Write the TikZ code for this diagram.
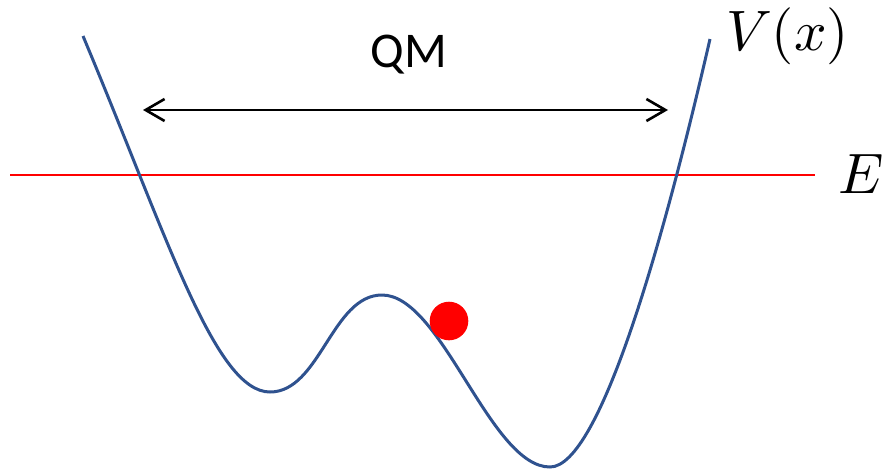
\documentclass[tikz,border=0pt]{standalone}
\usepackage{fontspec}
\newfontfamily\qmfont{Carlito}
\usetikzlibrary{arrows.meta}
\definecolor{curveblue}{RGB}{47,82,143}
\tikzset{
  potential/.style={draw=curveblue, line width=3pt},
  energy/.style={draw=red, line width=2.6pt},
  qmspan/.style={draw=black, line width=2.6pt, {Straight Barb[length=19pt,width=22pt,line width=2.6pt]}-{Straight Barb[length=19pt,width=22pt,line width=2.6pt]}},
  lbl/.style={inner sep=0pt, outer sep=0pt},
}
\begin{document}
\begin{tikzpicture}[x=1pt,y=-1pt]
\useasboundingbox (0,0) rectangle (885,472);
% energy line
\coordinate (e1) at (10,175);
\coordinate (e2) at (815,175);
\draw[energy] (e1) -- (e2);
% potential curve
\coordinate (p0) at (83,36);
\coordinate (m1) at (270,392);
\coordinate (mx) at (382,295);
\coordinate (m2) at (550,467);
\coordinate (p1) at (710,39);
\draw[potential] (p0) .. controls (167,236) and (215,392) .. (m1)
  .. controls (320,392) and (332,295) .. (mx)
  .. controls (442,295) and (490,467) .. (m2)
  .. controls (600,467) and (664,239) .. (p1);
% arrow
\coordinate (a1) at (143,110);
\coordinate (a2) at (668,110);
\draw[qmspan] (a1) -- (a2);
% labels
\node[lbl, anchor=base] (qm) at (409,67) {\qmfont\fontsize{50}{50}\selectfont QM};
\node[lbl, anchor=base west, scale=5.7] (vx) at (726,50) {$V(x)$};
\node[lbl, anchor=base west, scale=5.7] (en) at (838,193) {$E$};
% particle
\fill[red] (449,321) circle (19.3);
\end{tikzpicture}
\end{document}
